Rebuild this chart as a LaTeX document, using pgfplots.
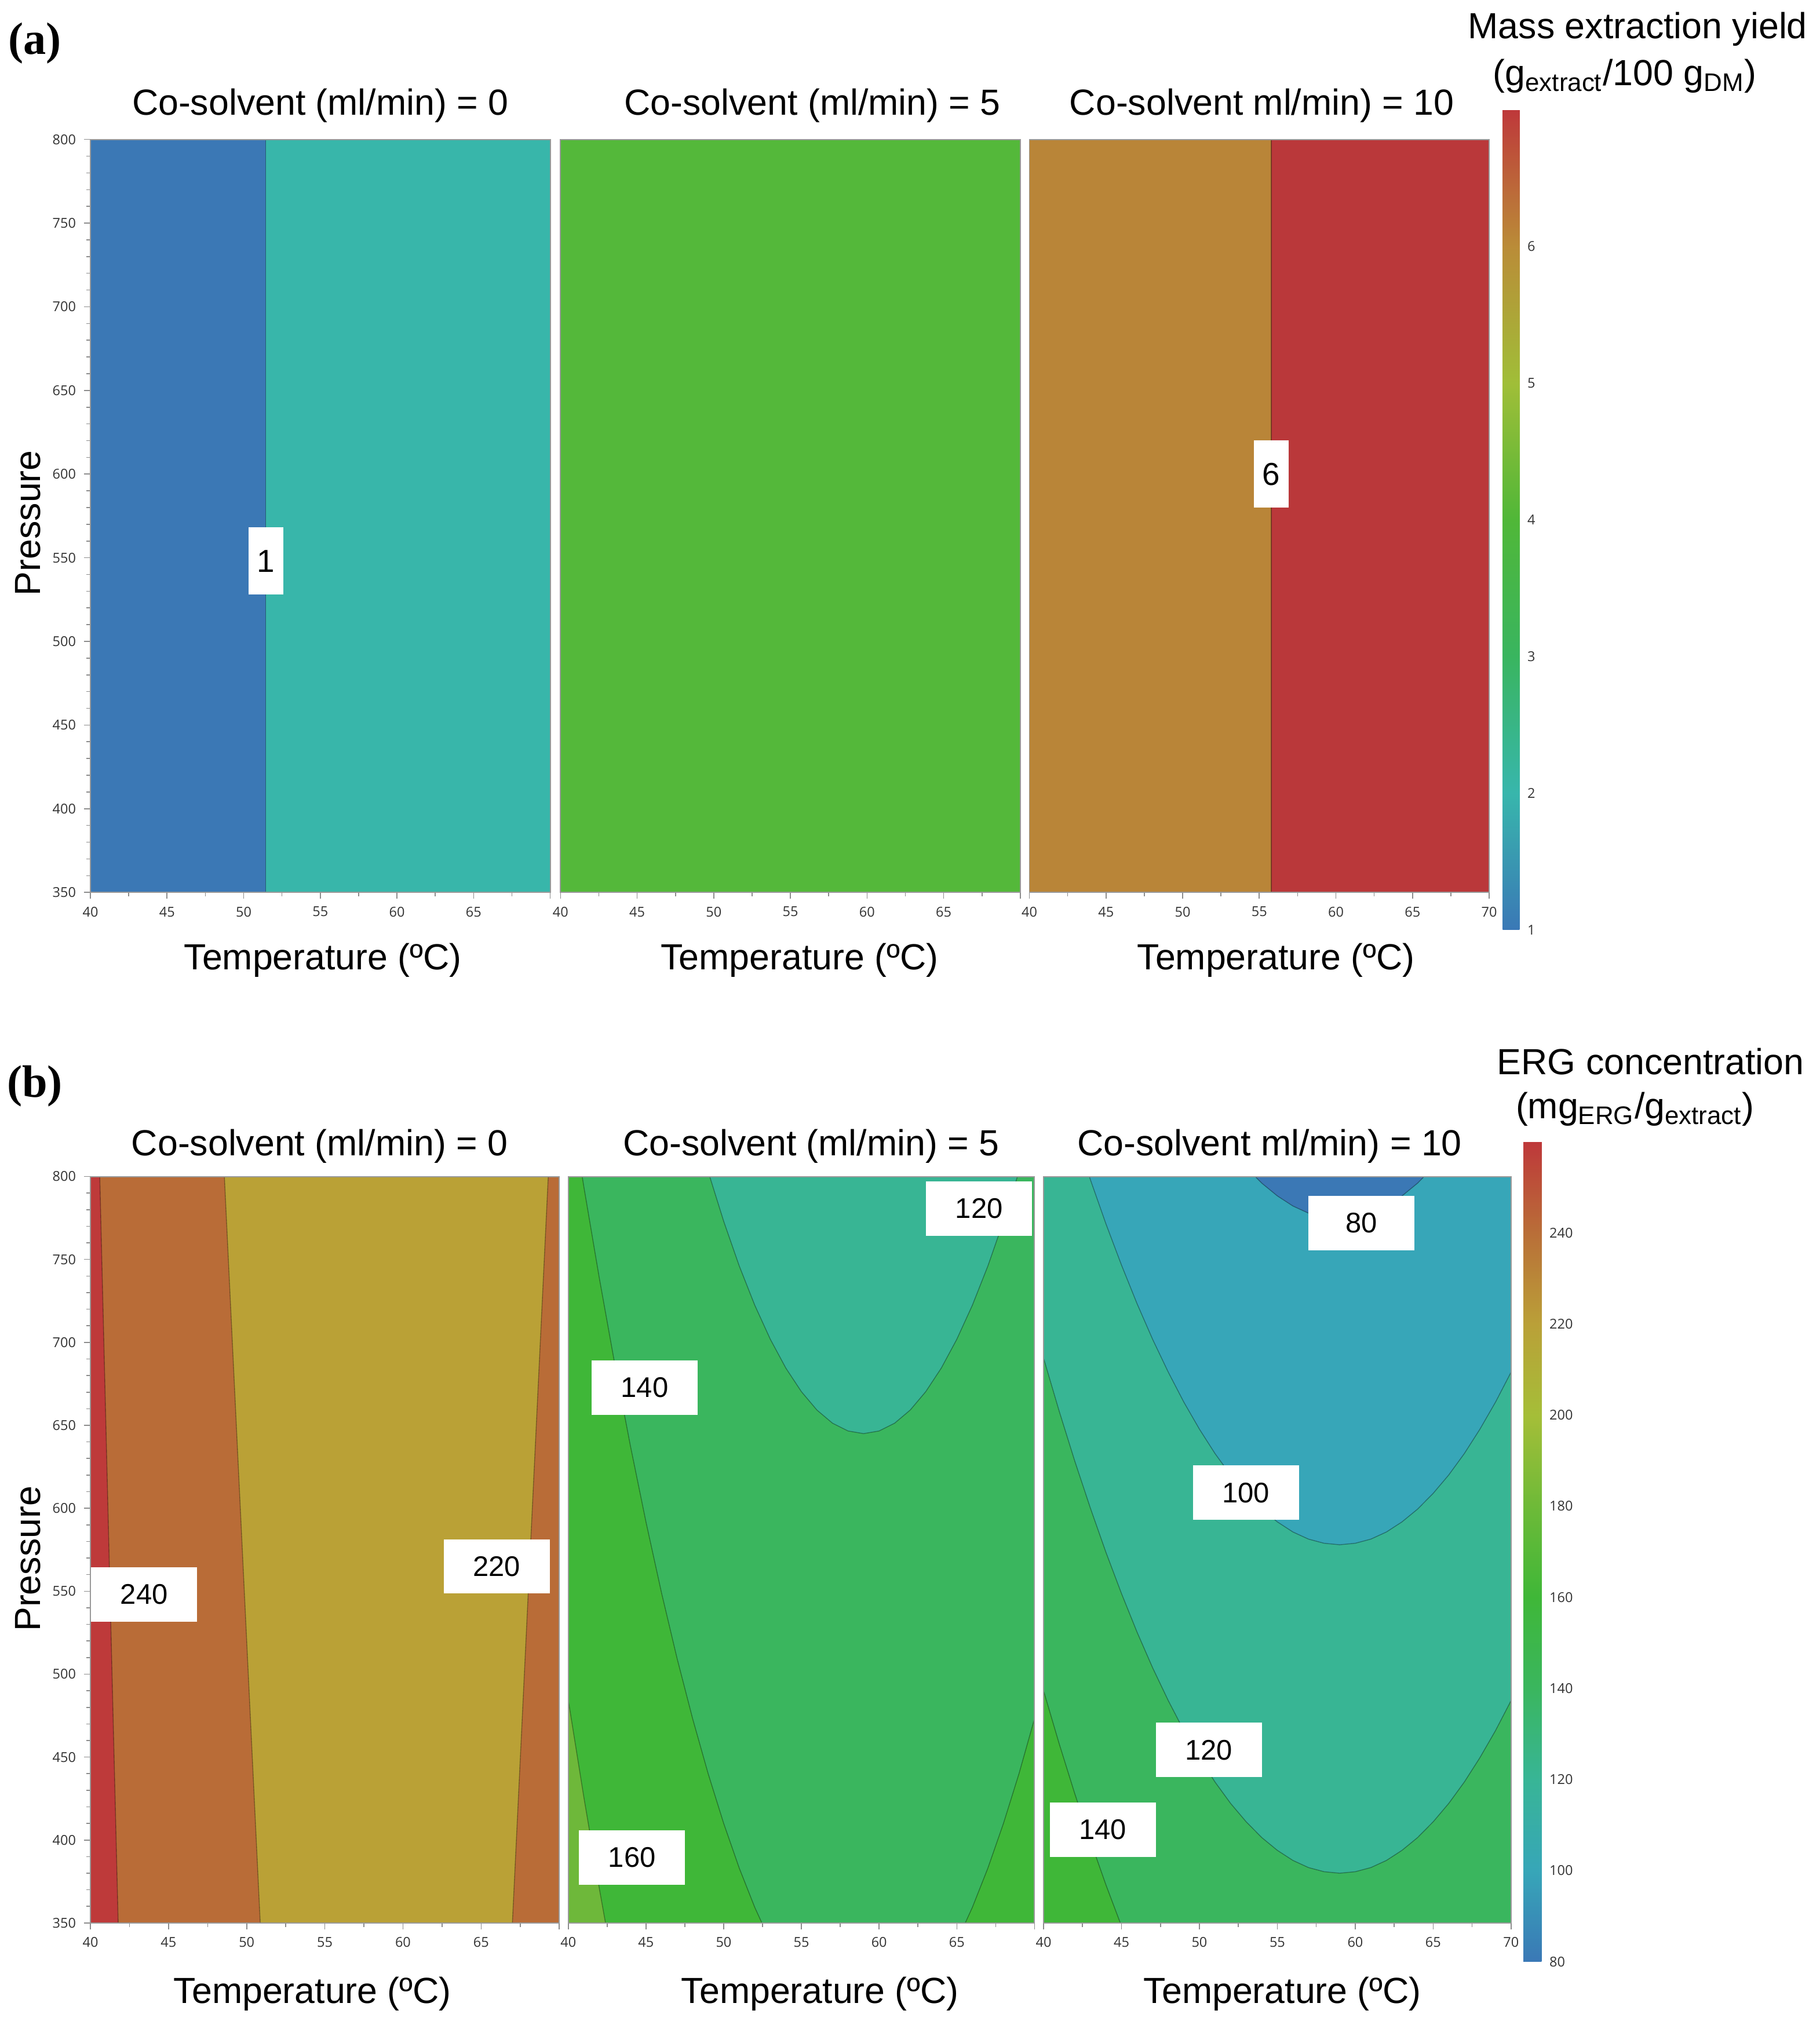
\documentclass[border=0pt]{standalone}
\usepackage{pgfplots}
\pgfplotsset{compat=1.18}
\usepackage{fontspec}
\setmainfont{Liberation Sans}
\newfontfamily\tickfont{Open Sans}
\newfontfamily\panelfont{Liberation Serif}
\definecolor{aBlue}{RGB}{59,120,181}
\definecolor{aTeal}{RGB}{56,182,170}
\definecolor{aGreen}{RGB}{84,184,58}
\definecolor{aOchre}{RGB}{185,133,56}
\definecolor{aRed}{RGB}{186,56,58}
\definecolor{bRed}{RGB}{190,58,58}
\definecolor{bOrange}{RGB}{185,108,55}
\definecolor{bYellow}{RGB}{186,161,54}
\definecolor{gTeal}{RGB}{56,181,148}
\definecolor{gMid}{RGB}{58,182,94}
\definecolor{gBright}{RGB}{63,183,56}
\definecolor{gYel}{RGB}{110,184,58}
\definecolor{gCyan}{RGB}{55,166,184}
\definecolor{gBlue}{RGB}{59,120,181}
\tikzset{
  cline/.style={draw=black, draw opacity=0.35, line width=0.35pt},
  laba/.style={fill=white, inner sep=0pt, minimum width=0.54cm, minimum height=1.04cm, font=\fontsize{14}{16}\selectfont},
  labb/.style={fill=white, inner sep=0pt, minimum width=1.64cm, minimum height=0.84cm, font=\fontsize{12.5}{14}\selectfont},
}
\pgfplotsset{
  panel/.style={
    scale only axis, anchor=south west,
    xmin=40, xmax=70, ymin=350, ymax=800,
    axis on top,
    axis line style={draw=black!40, line width=0.5pt},
    tick align=outside, tick pos=left,
    major tick length=0.1cm, minor tick length=0.06cm,
    tick style={black!45, line width=0.4pt},
    minor x tick num=1, minor y tick num=4,
    xtick={40,45,...,70}, ytick={350,400,...,800},
    tick label style={font=\tickfont\fontsize{6}{7}\selectfont, text=black!80},
    /pgf/number format/assume math mode=true,
  },
  noy/.style={ytick=\empty, minor y tick num=0},
  xl65/.style={xticklabels={40,45,50,55,60,65,{}}},
}
\newcommand{\ttl}{\fontsize{16}{19}\selectfont}
\begin{document}
\begin{tikzpicture}
\useasboundingbox (0,0) rectangle (28.18,31.36);

% ---------------- row (a) ----------------
\begin{axis}[panel, at={(1.40cm,17.54cm)}, width=7.12cm, height=11.66cm, xl65]
\addplot[fill=aTeal, draw=none] coordinates {(38,330) (72,330) (72,830) (38,830)};
\addplot[fill=aBlue, cline] coordinates {(38,330) (51.44,330) (51.44,830) (38,830) (38,330)};
\node[laba] at (axis cs:51.44,548) {1};
\end{axis}

\begin{axis}[panel, noy, at={(8.68cm,17.54cm)}, width=7.12cm, height=11.66cm, xl65]
\addplot[fill=aGreen, draw=none] coordinates {(38,330) (72,330) (72,830) (38,830)};
\end{axis}

\begin{axis}[panel, noy, at={(15.94cm,17.54cm)}, width=7.12cm, height=11.66cm,
  colormap={yieldmap}{rgb255=(58,120,182) rgb255=(56,182,172) rgb255=(57,181,95) rgb255=(80,183,56) rgb255=(160,190,56) rgb255=(186,140,56) rgb255=(190,56,58)},
  colorbar, point meta min=1, point meta max=7,
  colorbar style={
    at={(parent axis.north east)}, anchor=north west,
    xshift=-0.09cm, yshift=0.46cm,
    scale only axis, width=0.26cm, height=12.7cm,
    ytick={1,2,3,4,5,6}, minor y tick num=0,
    yticklabel pos=right, major tick length=0pt,
    axis line style={draw=none},
    tick label style={font=\tickfont\fontsize{6}{7}\selectfont, text=black!80},
    /pgf/number format/assume math mode=true,
  }]
\addplot[fill=aRed, draw=none] coordinates {(38,330) (72,330) (72,830) (38,830)};
\addplot[fill=aOchre, cline] coordinates {(38,330) (55.78,330) (55.78,830) (38,830) (38,330)};
\node[laba] at (axis cs:55.78,600) {6};
\end{axis}

% ---------------- row (b) ----------------
\begin{axis}[panel, at={(1.40cm,1.58cm)}, width=7.26cm, height=11.56cm, xl65]
\addplot[fill=bOrange, draw=none] coordinates {(38,330) (72,330) (72,830) (38,830)};
\addplot[fill=bRed, cline] coordinates {(38,330) (41.83,330) (40.52,830) (38,830) (38,330)};
\addplot[fill=bYellow, cline] coordinates {(50.97,330) (48.42,830) (69.45,830) (66.90,330) (50.97,330)};
\node[labb] at (axis cs:43.44,548) {240};
\node[labb] at (axis cs:66.0,565) {220};
\end{axis}

\begin{axis}[panel, noy, at={(8.80cm,1.58cm)}, width=7.22cm, height=11.56cm, xl65]
\addplot[fill=gMid, draw=none] coordinates {(38,330) (72,330) (72,830) (38,830)};
\addplot[fill=gTeal, cline] coordinates {(47,872.5) (48,836.2) (49,803) (50,773) (51,746.1) (52,722.4) (53,701.9) (54,684.5) (55,670.3) (56,659.2) (57,651.3) (58,646.6) (59,645) (60,646.6) (61,651.3) (62,659.2) (63,670.3) (64,684.5) (65,701.9) (66,722.4) (67,746.1) (68,773) (69,803) (70,836.2) (71,872.5) (71,1000) (47,1000) (47,872.5)};
\addplot[fill=gBright, cline] coordinates {(38,978.8) (39,914) (40,852.4) (41,793.9) (42,738.6) (43,686.5) (44,637.5) (45,591.7) (46,549) (47,509.5) (48,473.2) (49,440) (50,410) (51,383.1) (52,359.4) (53,338.9) (54,321.5) (55,307.3) (56,296.2) (57,288.3) (58,283.6) (59,282) (60,283.6) (61,288.3) (62,296.2) (63,307.3) (64,321.5) (65,338.9) (66,359.4) (67,383.1) (68,410) (69,440) (70,473.2) (71,509.5) (71,250) (38,250) (38,978.8)};
\addplot[fill=gYel, cline] coordinates {(38,610.8) (39,546) (40,484.4) (41,425.9) (42,370.6) (43,318.5) (44,269.5) (44,250) (38,250) (38,610.8)};
\node[labb] at (axis cs:66.43,780.6) {120};
\node[labb] at (axis cs:44.91,672.7) {140};
\node[labb] at (axis cs:44.1,389.5) {160};
\end{axis}

\begin{axis}[panel, noy, at={(16.16cm,1.58cm)}, width=7.24cm, height=11.56cm,
  colormap={ergmap}{rgb255=(58,120,182) rgb255=(55,166,184) rgb255=(56,181,150) rgb255=(58,182,94) rgb255=(63,183,56) rgb255=(110,186,56) rgb255=(165,190,56) rgb255=(186,160,56) rgb255=(185,110,56) rgb255=(190,56,58)},
  colorbar, point meta min=80, point meta max=260,
  colorbar style={
    at={(parent axis.north east)}, anchor=north west,
    xshift=-0.11cm, yshift=0.54cm,
    scale only axis, width=0.28cm, height=12.7cm,
    ytick={80,100,...,240}, minor y tick num=0,
    yticklabel pos=right, major tick length=0pt,
    axis line style={draw=none},
    tick label style={font=\tickfont\fontsize{6}{7}\selectfont, text=black!80},
    /pgf/number format/assume math mode=true,
  }]
\addplot[fill=gMid, draw=none] coordinates {(38,330) (72,330) (72,830) (38,830)};
\addplot[fill=gTeal, cline] coordinates {(38,759.3) (39,724) (40,690.5) (41,658.6) (42,628.5) (43,600.2) (44,573.5) (45,548.6) (46,525.3) (47,503.8) (48,484.1) (49,466) (50,449.7) (51,435) (52,422.1) (53,411) (54,401.5) (55,393.8) (56,387.7) (57,383.4) (58,380.9) (59,380) (60,380.9) (61,383.4) (62,387.7) (63,393.8) (64,401.5) (65,411) (66,422.1) (67,435) (68,449.7) (69,466) (70,484.1) (71,503.8) (71,1000) (38,1000) (38,759.3)};
\addplot[fill=gCyan, cline] coordinates {(38,957.3) (39,922) (40,888.5) (41,856.6) (42,826.5) (43,798.2) (44,771.5) (45,746.6) (46,723.3) (47,701.8) (48,682.1) (49,664) (50,647.7) (51,633) (52,620.1) (53,609) (54,599.5) (55,591.8) (56,585.7) (57,581.4) (58,578.9) (59,578) (60,578.9) (61,581.4) (62,585.7) (63,591.8) (64,599.5) (65,609) (66,620.1) (67,633) (68,647.7) (69,664) (70,682.1) (71,701.8) (71,1000) (38,1000) (38,957.3)};
\addplot[fill=gBlue, cline] coordinates {(52,816.6) (53,805.5) (54,796) (55,788.3) (56,782.2) (57,777.9) (58,775.4) (59,774.5) (60,775.4) (61,777.9) (62,782.2) (63,788.3) (64,796) (65,805.5) (66,816.6) (66,1000) (52,1000) (52,816.6)};
\addplot[fill=gBright, cline] coordinates {(38,558.8) (39,523.5) (40,490) (41,458.1) (42,428) (43,399.7) (44,373) (45,348.1) (46,324.8) (46,250) (38,250) (38,558.8)};
\node[labb] at (axis cs:60.4,772) {80};
\node[labb] at (axis cs:52.98,609.4) {100};
\node[labb] at (axis cs:50.6,454.3) {120};
\node[labb] at (axis cs:43.8,406.2) {140};
\end{axis}

% ---------------- texts ----------------
\node[font=\panelfont\bfseries\fontsize{20}{24}\selectfont] at (0.54,30.69) {(a)};
\node[font=\panelfont\bfseries\fontsize{20}{24}\selectfont] at (0.54,14.54) {(b)};

\node[font=\ttl, anchor=base] at (4.96,29.58) {Co-solvent (ml/min) = 0};
\node[font=\ttl, anchor=base] at (12.58,29.58) {Co-solvent (ml/min) = 5};
\node[font=\ttl, anchor=base] at (19.54,29.58) {Co-solvent ml/min) = 10};
\node[font=\ttl, anchor=base] at (4.95,13.46) {Co-solvent (ml/min) = 0};
\node[font=\ttl, anchor=base] at (12.56,13.46) {Co-solvent (ml/min) = 5};
\node[font=\ttl, anchor=base] at (19.66,13.46) {Co-solvent ml/min) = 10};

\node[font=\ttl, anchor=base] at (5.00,16.34) {Temperature (ºC)};
\node[font=\ttl, anchor=base] at (12.38,16.34) {Temperature (ºC)};
\node[font=\ttl, anchor=base] at (19.76,16.34) {Temperature (ºC)};
\node[font=\ttl, anchor=base] at (4.84,0.34) {Temperature (ºC)};
\node[font=\ttl, anchor=base] at (12.70,0.34) {Temperature (ºC)};
\node[font=\ttl, anchor=base] at (19.86,0.34) {Temperature (ºC)};

\node[font=\ttl, anchor=base, rotate=90] at (0.62,23.26) {Pressure};
\node[font=\ttl, anchor=base, rotate=90] at (0.62,7.22) {Pressure};

\node[font=\ttl, anchor=base] at (25.36,30.76) {Mass extraction yield};
\node[font=\ttl, anchor=base] at (25.16,30.04) {(g\textsubscript{extract}/100 g\textsubscript{DM})};
\node[font=\ttl, anchor=base] at (25.56,14.72) {ERG concentration};
\node[font=\ttl, anchor=base] at (25.32,14.04) {(mg\textsubscript{ERG}/g\textsubscript{extract})};
\end{tikzpicture}
\end{document}
